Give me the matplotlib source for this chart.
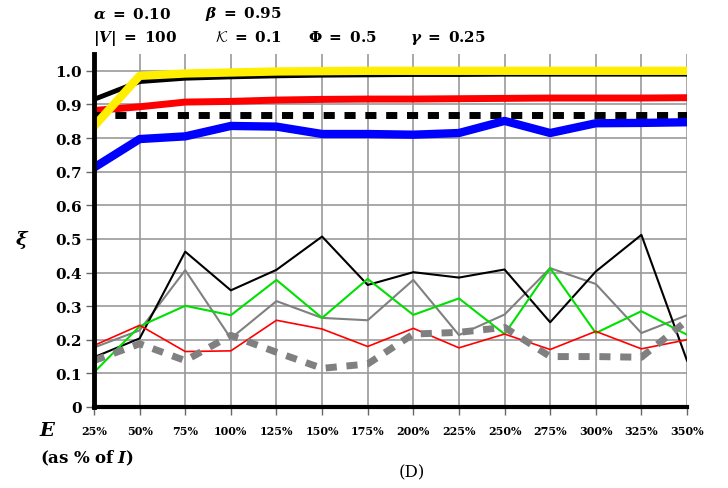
import numpy as np
import matplotlib
matplotlib.use('Agg')
import matplotlib.pyplot as plt

plt.rcParams['mathtext.fontset'] = 'custom'
plt.rcParams['mathtext.rm'] = 'DejaVu Serif'
plt.rcParams['mathtext.it'] = 'DejaVu Serif:italic'
plt.rcParams['mathtext.bf'] = 'DejaVu Serif:bold'
plt.rcParams['mathtext.bfit'] = 'DejaVu Serif:italic:bold'
plt.rcParams['mathtext.cal'] = 'cmsy10'

# oś x: E jako % I
x_labels = ['25%', '50%', '75%', '100%', '125%', '150%', '175%', '200%',
            '225%', '250%', '275%', '300%', '325%', '350%']

# grube serie (górna część wykresu)
black_thick = [0.915, 0.968, 0.978, 0.982, 0.985, 0.987, 0.988, 0.989, 0.989, 0.990, 0.990, 0.990, 0.990, 0.990]
yellow_thick = [0.835, 0.985, 0.992, 0.995, 0.998, 0.999, 1.0, 1.0, 1.0, 1.0, 1.0, 1.0, 1.0, 1.0]
red_thick = [0.882, 0.893, 0.907, 0.909, 0.913, 0.915, 0.916, 0.916, 0.917, 0.918, 0.919, 0.919, 0.919, 0.920]
black_dashed = [0.869] * 14
blue_thick = [0.712, 0.797, 0.805, 0.836, 0.834, 0.812, 0.812, 0.810, 0.815, 0.851, 0.815, 0.844, 0.845, 0.847]

# cienkie serie (dolna część)
black_thin = [0.148, 0.204, 0.462, 0.347, 0.408, 0.507, 0.363, 0.401, 0.385, 0.409, 0.252, 0.403, 0.512, 0.138]
gray_thin = [0.177, 0.228, 0.407, 0.204, 0.315, 0.265, 0.258, 0.378, 0.214, 0.275, 0.413, 0.366, 0.220, 0.273]
green_thin = [0.103, 0.240, 0.301, 0.273, 0.378, 0.265, 0.381, 0.274, 0.323, 0.217, 0.413, 0.220, 0.285, 0.215]
red_thin = [0.183, 0.243, 0.165, 0.167, 0.258, 0.232, 0.180, 0.234, 0.176, 0.217, 0.171, 0.225, 0.173, 0.200]
gray_dashed = [0.138, 0.188, 0.138, 0.213, 0.163, 0.115, 0.128, 0.217, 0.222, 0.237, 0.150, 0.150, 0.148, 0.257]

x = np.arange(len(x_labels))

fig = plt.figure(figsize=(7.28, 4.89), dpi=100)
ax = fig.add_axes([94 / 728, 1 - 408 / 489, 593 / 728, 353 / 489])

ax.plot(x, gray_thin, color='#808080', lw=1.5, zorder=3)
ax.plot(x, black_thin, color='black', lw=1.5, zorder=3)
ax.plot(x, green_thin, color='#00e000', lw=1.5, zorder=3)
ax.plot(x, red_thin, color='red', lw=1.2, zorder=3)
ax.plot(x, gray_dashed, color='#808080', lw=5, dashes=(1.6, 1.4), zorder=3)

ax.plot(x, black_thick, color='black', lw=3.5, zorder=4)
ax.plot(x, yellow_thick, color='#ffee00', lw=6, zorder=5)
ax.plot(x, red_thick, color='red', lw=5, zorder=4)
ax.plot(x, black_dashed, color='black', lw=5, dashes=(1.6, 1.4), zorder=4)
ax.plot(x, blue_thick, color='blue', lw=6, zorder=4)

ax.set_xlim(0, len(x) - 1)
ax.set_ylim(0, 1.05)
ax.set_xticks(x)
ax.set_xticklabels(x_labels, fontsize=8, family='DejaVu Serif', weight='bold')
yt = np.round(np.arange(0, 1.01, 0.1), 1)
ax.set_yticks(yt)
ax.set_yticklabels(['0'] + ['%.1f' % v for v in yt[1:]], fontsize=11,
                   family='DejaVu Serif', weight='bold')
ax.grid(True, color='#999999', lw=1.2)
ax.set_axisbelow(True)
for s in ['top', 'right']:
    ax.spines[s].set_visible(False)
ax.spines['left'].set_linewidth(3.5)
ax.spines['bottom'].set_linewidth(3)
ax.spines['left'].set_zorder(6)
ax.spines['bottom'].set_zorder(6)
ax.tick_params(axis='both', color='#666666', length=6, width=1, pad=3)
ax.tick_params(axis='x', pad=7)

fs = 11
eq = r'\ \mathbf{=}\ '
fig.text(93 / 728, 1 - 14 / 489, r'$\boldsymbol{\alpha}' + eq + r'\mathbf{0.10}$', fontsize=fs, va='center')
fig.text(205 / 728, 1 - 14 / 489, r'$\boldsymbol{\beta}' + eq + r'\mathbf{0.95}$', fontsize=fs, va='center')
fig.text(93 / 728, 1 - 38 / 489, r'$\mathbf{|}\boldsymbol{V}\mathbf{|}' + eq + r'\mathbf{100}$', fontsize=fs, va='center')
fig.text(215 / 728, 1 - 38 / 489, r'$\mathcal{K}' + eq + r'\mathbf{0.1}$', fontsize=fs, va='center')
fig.text(308 / 728, 1 - 38 / 489, r'$\mathbf{\Phi}' + eq + r'\mathbf{0.5}$', fontsize=fs, va='center')
fig.text(410 / 728, 1 - 38 / 489, r'$\boldsymbol{\gamma}' + eq + r'\mathbf{0.25}$', fontsize=fs, va='center')

fig.text(22 / 728, 1 - 240 / 489, r'$\boldsymbol{\xi}$', fontsize=14, va='center', ha='center')
fig.text(48 / 728, 1 - 431 / 489, r'$\boldsymbol{E}$', fontsize=14, va='center', ha='center')
fig.text(40 / 728, 1 - 458 / 489, r'$\mathbf{(as\ \%\ of\ }\boldsymbol{I}\mathbf{)}$', fontsize=12,
         va='center', ha='left')
fig.text(412 / 728, 1 - 473 / 489, '(D)', fontsize=12, family='DejaVu Serif', va='center', ha='center')

fig.savefig('out.png', dpi=100)
